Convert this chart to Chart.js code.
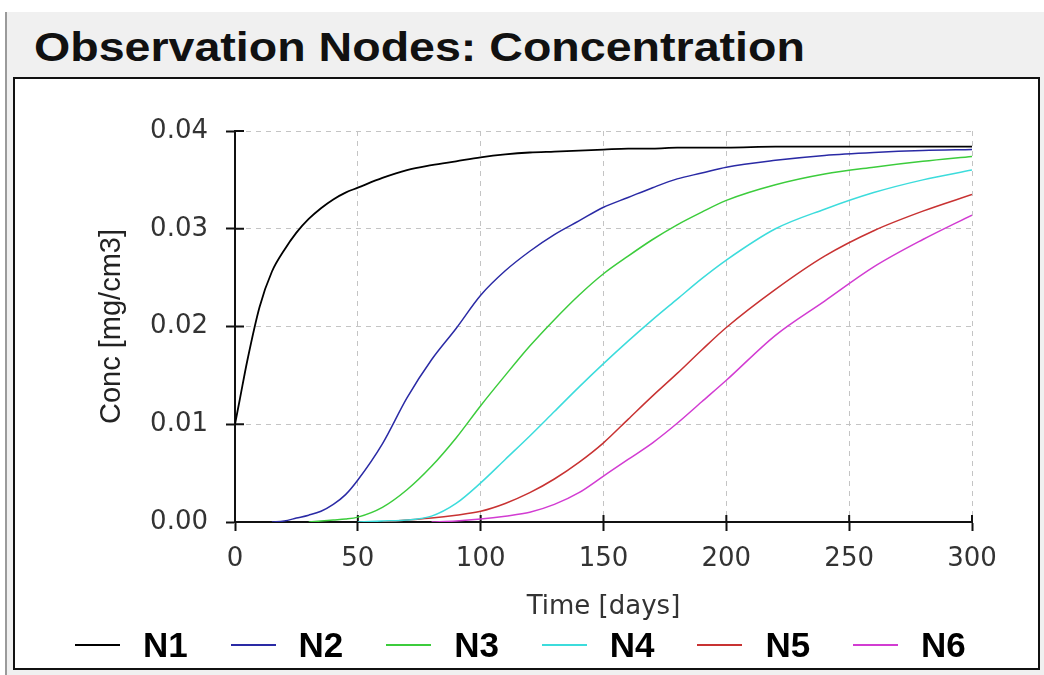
<!DOCTYPE html>
<html>
<head>
<meta charset="utf-8">
<script src="https://cdn.jsdelivr.net/npm/chart.js@4.4.1/dist/chart.umd.min.js"></script>
<style>
  html, body { margin: 0; padding: 0; }
  body { width: 1044px; height: 675px; position: relative; overflow: hidden; background: #fff; font-family: "Liberation Sans", Arial, sans-serif; }
  #panel { position: absolute; left: 5px; top: 12px; right: 0; bottom: 0; background: #f0f0f0; border-left: 2px solid #9a9a9a; }
  #title { position: absolute; left: 34px; top: 27px; font-weight: bold; font-size: 41px; line-height: 41px; color: #111; white-space: nowrap; transform-origin: 0 0; }
  #box { position: absolute; left: 13px; top: 77px; width: 1023px; height: 589px; background: #fff; border: 2px solid #111; }
  #chartWrap { position: absolute; left: 16px; top: 80px; width: 1020px; height: 548px; }
  #legend { position: absolute; left: 75px; top: 625px; height: 40px; display: flex; }
  .item { width: 155.6px; display: flex; align-items: center; }
  .swatch { width: 45px; height: 2px; margin-right: 23px; }
  .label { font-weight: bold; font-size: 35px; color: #000; }
</style>
</head>
<body>
<div id="panel"></div>
<div id="title"><span id="titleText">Observation Nodes: Concentration</span></div>
<div id="box"></div>
<div id="chartWrap"><canvas id="chart" width="1020" height="548"></canvas></div>
<div id="legend"></div>
<script>
// time axis (days)
const days = [0, 2, 5, 10, 15, 20, 25, 30, 35, 40, 45, 50, 60, 70, 80, 90, 100, 110, 120, 130, 140, 150, 160, 170, 180, 190, 200, 220, 240, 260, 280, 300];

// concentration per node [mg/cm3]
const n1 = [0.0100, 0.0126, 0.0165, 0.0220, 0.0256, 0.0278, 0.0296, 0.0310, 0.0321, 0.0330, 0.0337, 0.0342,
  0.0352, 0.0360, 0.0365, 0.0369, 0.0373, 0.0376, 0.0378, 0.0379, 0.0380, 0.0381, 0.0382, 0.0382, 0.0383, 0.0383, 0.0383,
  0.0384, 0.0384, 0.0384, 0.0384, 0.0384];
const n2 = [null, null, null, null, 0.0000, 0.0001, 0.0004, 0.0007, 0.0011, 0.0018, 0.0028, 0.0043,
  0.0080, 0.0127, 0.0166, 0.0198, 0.0232, 0.0257, 0.0277, 0.0294, 0.0308, 0.0322, 0.0332, 0.0342, 0.0351, 0.0357, 0.0363,
  0.0370, 0.0375, 0.0378, 0.0380, 0.0381];
const n3 = [null, null, null, null, null, null, null, 0.0000, 0.0001, 0.0002, 0.0003, 0.0005,
  0.0015, 0.0033, 0.0057, 0.0086, 0.0119, 0.0150, 0.0180, 0.0207, 0.0232, 0.0254, 0.0272, 0.0289, 0.0304, 0.0317, 0.0329,
  0.0345, 0.0356, 0.0363, 0.0369, 0.0374];
const n4 = [null, null, null, null, null, null, null, null, null, null, null, 0.0000,
  0.0001, 0.0002, 0.0006, 0.0019, 0.0040, 0.0064, 0.0088, 0.0113, 0.0138, 0.0162, 0.0185, 0.0207, 0.0228, 0.0249, 0.0268,
  0.0300, 0.0320, 0.0337, 0.0350, 0.0360];
const n5 = [null, null, null, null, null, null, null, null, null, null, null, null,
  0.0000, 0.0002, 0.0004, 0.0007, 0.0011, 0.0019, 0.0030, 0.0044, 0.0061, 0.0081, 0.0105, 0.0129, 0.0152, 0.0176, 0.0199,
  0.0238, 0.0272, 0.0298, 0.0318, 0.0335];
const n6 = [null, null, null, null, null, null, null, null, null, null, null, null,
  null, null, 0.0000, 0.0001, 0.0003, 0.0006, 0.0010, 0.0018, 0.0030, 0.0047, 0.0064, 0.0081, 0.0101, 0.0123, 0.0145,
  0.0191, 0.0226, 0.0261, 0.0289, 0.0314];

const seriesNames = ["N1", "N2", "N3", "N4", "N5", "N6"];
const seriesValues = [n1, n2, n3, n4, n5, n6];
const seriesColors = ["#000000", "#2a2aa5", "#3ccc3c", "#3cdcdc", "#c83232", "#d23cd2"];

const xTicks = [0, 50, 100, 150, 200, 250, 300];
const yTicks = [0, 0.01, 0.02, 0.03, 0.04];

// squeeze the heading to the width it has in the original
const titleText = document.getElementById("titleText");
const titleBox = document.getElementById("title");
titleBox.style.transform = "scaleX(" + (771 / titleText.offsetWidth) + ")";

// legend below the plot
const legendDiv = document.getElementById("legend");
seriesNames.forEach((name, i) => {
  const item = document.createElement("div");
  item.className = "item";
  const sw = document.createElement("span");
  sw.className = "swatch";
  sw.style.background = seriesColors[i];
  const lb = document.createElement("span");
  lb.className = "label";
  lb.textContent = name;
  item.appendChild(sw);
  item.appendChild(lb);
  legendDiv.appendChild(item);
});

// short tick marks on the inner side of the axes
const innerTicks = {
  id: "innerTicks",
  beforeDatasetsDraw(chart) {
    const { ctx, chartArea, scales } = chart;
    ctx.save();
    ctx.strokeStyle = "#111";
    ctx.lineWidth = 2;
    ctx.beginPath();
    xTicks.forEach(v => {
      const px = scales.x.getPixelForValue(v);
      ctx.moveTo(px, chartArea.bottom);
      ctx.lineTo(px, chartArea.bottom - 7);
    });
    yTicks.forEach(v => {
      const py = scales.y.getPixelForValue(v);
      ctx.moveTo(chartArea.left, py);
      ctx.lineTo(chartArea.left + 9, py);
    });
    ctx.stroke();
    ctx.restore();
  }
};

const datasets = seriesNames.map((name, i) => ({
  label: name,
  data: days.map((d, j) => ({ x: d, y: seriesValues[i][j] })),
  borderColor: seriesColors[i],
  backgroundColor: seriesColors[i],
  borderWidth: i === 0 ? 1.8 : 1.5,
  pointRadius: 0,
  cubicInterpolationMode: "monotone",
  spanGaps: false
}));

const tickFont = { family: "DejaVu Sans", size: 26 };

new Chart(document.getElementById("chart"), {
  type: "line",
  data: { datasets: datasets },
  options: {
    responsive: false,
    animation: false,
    devicePixelRatio: 1,
    layout: { padding: { left: 0, top: 51, right: 64, bottom: 0 } },
    plugins: {
      legend: { display: false },
      tooltip: { enabled: false }
    },
    scales: {
      x: {
        type: "linear",
        min: 0,
        max: 300,
        afterBuildTicks: scale => { scale.ticks = xTicks.map(v => ({ value: v })); },
        afterFit: scale => { scale.height = 106; },
        ticks: { font: tickFont, color: "#333", padding: 13, maxRotation: 0 },
        grid: { color: "#c4c4c4", lineWidth: 1, tickColor: "#111", tickWidth: 2, tickLength: 9 },
        border: { color: "#111", width: 2, dash: [5, 5] },
        title: { display: true, text: "Time [days]", font: tickFont, color: "#333", padding: { top: 0, bottom: 5 } }
      },
      y: {
        min: 0,
        max: 0.04,
        afterBuildTicks: scale => { scale.ticks = yTicks.map(v => ({ value: v })); },
        afterFit: scale => { scale.width = 219; },
        ticks: { font: tickFont, color: "#333", padding: 18, callback: v => v.toFixed(2) },
        grid: { color: "#c4c4c4", lineWidth: 1, tickColor: "#111", tickWidth: 2, tickLength: 9 },
        border: { color: "#111", width: 2, dash: [5, 5] },
        title: { display: true, text: "Conc [mg/cm3]", font: { family: "Liberation Sans", size: 29 }, color: "#222", padding: { top: 79, bottom: 0 } }
      }
    }
  },
  plugins: [innerTicks]
});
</script>
</body>
</html>
